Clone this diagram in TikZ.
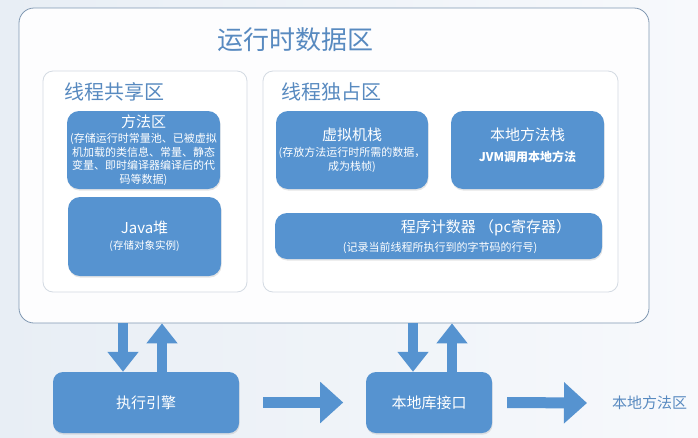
\documentclass[tikz,border=0pt]{standalone}
\usepackage{fontspec}
\setmainfont{Noto Sans CJK SC}
\usetikzlibrary{arrows.meta,shadows}
\definecolor{boxblue}{RGB}{86,147,208}
\definecolor{titleblue}{RGB}{88,138,192}
\definecolor{outerline}{RGB}{128,152,178}
\definecolor{innerline}{RGB}{211,218,226}
\definecolor{bgleft}{RGB}{232,238,245}
\definecolor{bgright}{RGB}{247,249,252}

\begin{document}
\begin{tikzpicture}[x=1pt,y=-1pt,
  bluebox/.style={fill=boxblue, rounded corners=12pt, text=white, align=center, inner sep=0pt,
    drop shadow={opacity=0.2,shadow xshift=0.6pt,shadow yshift=-1.6pt},
    font=\fontsize{11}{13.5}\selectfont},
  area/.style={draw=innerline, line width=0.8pt, fill=white, rounded corners=10pt, inner sep=0pt},
  big/.style={font=\fontsize{15}{18}\selectfont},
  heading/.style={text=titleblue, inner sep=0pt},
  fat/.style={draw=boxblue, line width=10pt, -{Triangle[width=30pt,length=20pt]}},
  wide/.style={draw=boxblue, line width=11pt, -{Triangle[width=40pt,length=23pt]}}]
  \shade[left color=bgleft, right color=bgright] (0,0) rectangle (698,437);
  \useasboundingbox (0,0) rectangle (698,437);

  \node[draw=outerline, line width=0.8pt, fill=white!70!bgright, rounded corners=15pt,
    minimum width=630pt, minimum height=315pt] (rt) at (334,165.5) {};
  \node[heading, font=\fontsize{26}{30}\selectfont] (rtlabel) at (295,40) {运行时数据区};

  \node[area, minimum width=204pt, minimum height=221pt] (shared) at (145,181.5) {};
  \node[area, minimum width=355pt, minimum height=221pt] (private) at (440.5,181.5) {};
  \node[heading, font=\fontsize{20}{24}\selectfont, anchor=west] (sharedlabel) at (64,92) {线程共享区};
  \node[heading, font=\fontsize{20}{24}\selectfont, anchor=west] (privatelabel) at (281,92) {线程独占区};

  \node[bluebox, minimum width=153pt, minimum height=78pt] (method) at (143.5,150)
    {{\fontsize{15}{18}\selectfont 方法区}\\[2pt]
     (存储运行时常量池、已被虚拟\\机加载的类信息、常量、静态\\变量、即时编译器编译后的代\\码等数据)};
  \node[bluebox, minimum width=153pt, minimum height=79pt] (heap) at (144.5,236.5)
    {{\fontsize{15}{18}\selectfont Java堆}\\[2pt]
     {\fontsize{10.5}{12}\selectfont (存储对象实例)}};
  \node[bluebox, minimum width=152pt, minimum height=78pt] (vmstack) at (352,150)
    {{\fontsize{15}{18}\selectfont 虚拟机栈}\\[3pt]
     (存放方法运行时所需的数据，\\成为栈帧)};
  \node[bluebox, minimum width=153pt, minimum height=78pt] (nstack) at (527.5,150) {};
  \node[big, text=white] (nstacklabel) at (527.5,135) {本地方法栈};
  \node[text=white, font=\fontsize{12}{14}\selectfont\bfseries] (nstacksub) at (527.5,157) {JVM调用本地方法};
  \node[bluebox, minimum width=327pt, minimum height=46pt] (pc) at (438.5,236) {};
  \node[big, text=white] (pclabel) at (486,228) {程序计数器 （pc寄存器）};
  \node[text=white, font=\fontsize{11}{13.5}\selectfont] (pcsub) at (440,248) {(记录当前线程所执行到的字节码的行号)};

  \node[bluebox, big, minimum width=186pt, minimum height=61pt, rounded corners=10pt] (engine) at (146,402.5) {执行引擎};
  \node[bluebox, big, minimum width=126pt, minimum height=61pt, rounded corners=10pt] (nlib) at (429,402.5) {本地库接口};
  \node[heading, big, anchor=west] (narea) at (612,403) {本地方法区};

  \coordinate (d1) at (123,0);
  \coordinate (u1) at (162,0);
  \coordinate (d2) at (413,0);
  \coordinate (u2) at (452,0);
  \draw[fat] (d1 |- rt.south) -- (d1 |- engine.north);
  \draw[fat] (u1 |- engine.north) -- (u1 |- rt.south);
  \draw[fat] (d2 |- rt.south) -- (d2 |- nlib.north);
  \draw[fat] (u2 |- nlib.north) -- (u2 |- rt.south);
  \draw[wide] ([xshift=24pt]engine.east) -- ([xshift=104pt]engine.east);
  \draw[wide] ([xshift=15pt]nlib.east) -- ([xshift=-25pt]narea.west);
\end{tikzpicture}
\end{document}
